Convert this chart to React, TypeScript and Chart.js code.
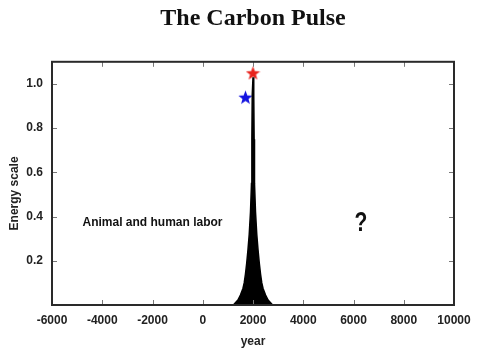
import React, { useEffect, useRef } from "react";
import { Chart, registerables } from "chart.js";

Chart.register(...registerables);

// ---- data ----
const years = [1220, 1300, 1400, 1500, 1600, 1650, 1700, 1750, 1800, 1850, 1900, 1940, 1955, 1970, 2000, 2030, 2045, 2060, 2100, 2150, 2200, 2250, 2300, 2350, 2400, 2500, 2600, 2700, 2780];
const energy = [0, 0.01, 0.022, 0.045, 0.075, 0.1, 0.14, 0.19, 0.25, 0.32, 0.42, 0.55, 0.75, 0.95, 1.03, 0.95, 0.75, 0.55, 0.42, 0.32, 0.25, 0.19, 0.14, 0.1, 0.075, 0.045, 0.022, 0.01, 0];

const starYears = [2000, 1700];
const starValues = [1.05, 0.94];
const starColors = ["#e8231c", "#1414e0"];

const xTicks = [-6000, -4000, -2000, 0, 2000, 4000, 6000, 8000, 10000];
const yTicks = [0.2, 0.4, 0.6, 0.8, 1.0];

const noteTexts = ["Animal and human labor", "?"];
const noteYears = [-2000, 6300];
const noteValues = [0.373, 0.37];

const yAxisTitle = "Energy scale";

const TICK_FONT = '"Liberation Sans", Arial, sans-serif';

function makeStar(color: string, size: number): HTMLCanvasElement {
  const c = document.createElement("canvas");
  c.width = size;
  c.height = size;
  const ctx = c.getContext("2d")!;
  const cx = size / 2;
  const cy = size / 2 + 0.7;
  const R = size / 2;
  const r = R * 0.42;
  ctx.beginPath();
  for (let i = 0; i < 10; i++) {
    const ang = -Math.PI / 2 + (i * Math.PI) / 5;
    const rad = i % 2 === 0 ? R : r;
    const px = cx + rad * Math.cos(ang);
    const py = cy + rad * Math.sin(ang);
    if (i === 0) ctx.moveTo(px, py);
    else ctx.lineTo(px, py);
  }
  ctx.closePath();
  ctx.fillStyle = color;
  ctx.fill();
  return c;
}

const overlay = {
  id: "overlay",
  afterDatasetsDraw(chart: any) {
    const { ctx, chartArea, scales } = chart;
    const { left, right, top, bottom } = chartArea;
    const xs = scales.x;
    const ys = scales.y;
    ctx.save();
    // inward tick marks
    ctx.strokeStyle = "#777";
    ctx.lineWidth = 1;
    ctx.beginPath();
    xTicks.forEach((v) => {
      const px = Math.round(xs.getPixelForValue(v)) + 0.5;
      if (px <= left + 2 || px >= right - 2) return;
      ctx.moveTo(px, bottom);
      ctx.lineTo(px, bottom - 5);
      ctx.moveTo(px, top);
      ctx.lineTo(px, top + 5);
    });
    yTicks.forEach((v) => {
      const py = Math.round(ys.getPixelForValue(v)) + 0.5;
      ctx.moveTo(left, py);
      ctx.lineTo(left + 5, py);
      ctx.moveTo(right, py);
      ctx.lineTo(right - 5, py);
    });
    ctx.stroke();
    // frame
    ctx.strokeStyle = "#2a2a2a";
    ctx.lineWidth = 2;
    ctx.strokeRect(left, top, right - left, bottom - top);
    // notes
    ctx.fillStyle = "#111";
    ctx.textBaseline = "middle";
    ctx.textAlign = "center";
    noteTexts.forEach((t, i) => {
      const px = xs.getPixelForValue(noteYears[i]);
      const py = ys.getPixelForValue(noteValues[i]);
      if (t === "?") {
        ctx.save();
        ctx.translate(px, py);
        ctx.scale(0.75, 1);
        ctx.font = 'bold 28px "Liberation Sans", Arial, sans-serif';
        ctx.fillText(t, 0, 0);
        ctx.restore();
      } else {
        ctx.font = 'bold 12px "Liberation Sans", Arial, sans-serif';
        ctx.fillText(t, px, py);
      }
    });
    // y axis title
    ctx.save();
    ctx.translate(15, (top + bottom) / 2 + 10);
    ctx.rotate(-Math.PI / 2);
    ctx.fillStyle = "#222";
    ctx.font = 'bold 12px "Liberation Sans", Arial, sans-serif';
    ctx.fillText(yAxisTitle, 0, 0);
    ctx.restore();
    ctx.restore();
  },
};

export default function App() {
  const ref = useRef<HTMLCanvasElement | null>(null);
  useEffect(() => {
    if (!ref.current) return;
    const stars = starColors.map((c) => makeStar(c, 15));
    const chart = new Chart(ref.current, {
      type: "line",
      data: {
        datasets: [
          {
            label: "Carbon pulse",
            data: years.map((y, i) => ({ x: y, y: energy[i] })),
            borderColor: "#000",
            backgroundColor: "#000",
            borderWidth: 1.5,
            fill: "origin",
            pointRadius: 0,
            tension: 0,
          },
          {
            label: "Stars",
            data: starYears.map((y, i) => ({ x: y, y: starValues[i] })),
            showLine: false,
            pointStyle: stars as any,
            pointRadius: 7.5,
            borderWidth: 0,
          } as any,
        ],
      },
      options: {
        animation: false,
        responsive: false,
        maintainAspectRatio: false,
        layout: { padding: { left: 0, right: 34, top: 0, bottom: 0 } },
        plugins: {
          legend: { display: false },
          tooltip: { enabled: false },
          title: {
            display: true,
            text: "The Carbon Pulse",
            fullSize: false,
            color: "#111",
            font: { family: '"Liberation Serif", "Times New Roman", serif', size: 24, weight: "bold" },
            padding: { top: 4, bottom: 29 },
          },
        },
        scales: {
          x: {
            type: "linear",
            min: -6000,
            max: 10000,
            afterBuildTicks: (s: any) => {
              s.ticks = xTicks.map((v) => ({ value: v }));
            },
            afterFit: (s: any) => {
              s.height = 48;
            },
            grid: { display: false, drawTicks: false },
            border: { display: false },
            ticks: {
              padding: 8,
              color: "#222",
              maxRotation: 0,
              autoSkip: false,
              font: { family: TICK_FONT, size: 12, weight: "bold" },
              callback: (v: any) => String(v),
            },
            title: {
              display: true,
              text: "year",
              color: "#222",
              font: { family: TICK_FONT, size: 12, weight: "bold" },
              padding: { top: 4, bottom: 4 },
            },
          },
          y: {
            type: "linear",
            min: 0,
            max: 1.1,
            afterBuildTicks: (s: any) => {
              s.ticks = yTicks.map((v) => ({ value: v }));
            },
            afterFit: (s: any) => {
              s.width = 52;
            },
            grid: { display: false, drawTicks: false },
            border: { display: false },
            ticks: {
              padding: 9,
              color: "#222",
              autoSkip: false,
              font: { family: TICK_FONT, size: 12, weight: "bold" },
              callback: (v: any) => Number(v).toFixed(1),
            },
            title: { display: false },
          },
        },
      },
      plugins: [overlay],
    });
    return () => chart.destroy();
  }, []);
  return (
    <div style={{ position: "fixed", left: 0, top: 0, width: 488, height: 353, background: "#fff" }}>
      <canvas ref={ref} width={488} height={353} />
    </div>
  );
}
